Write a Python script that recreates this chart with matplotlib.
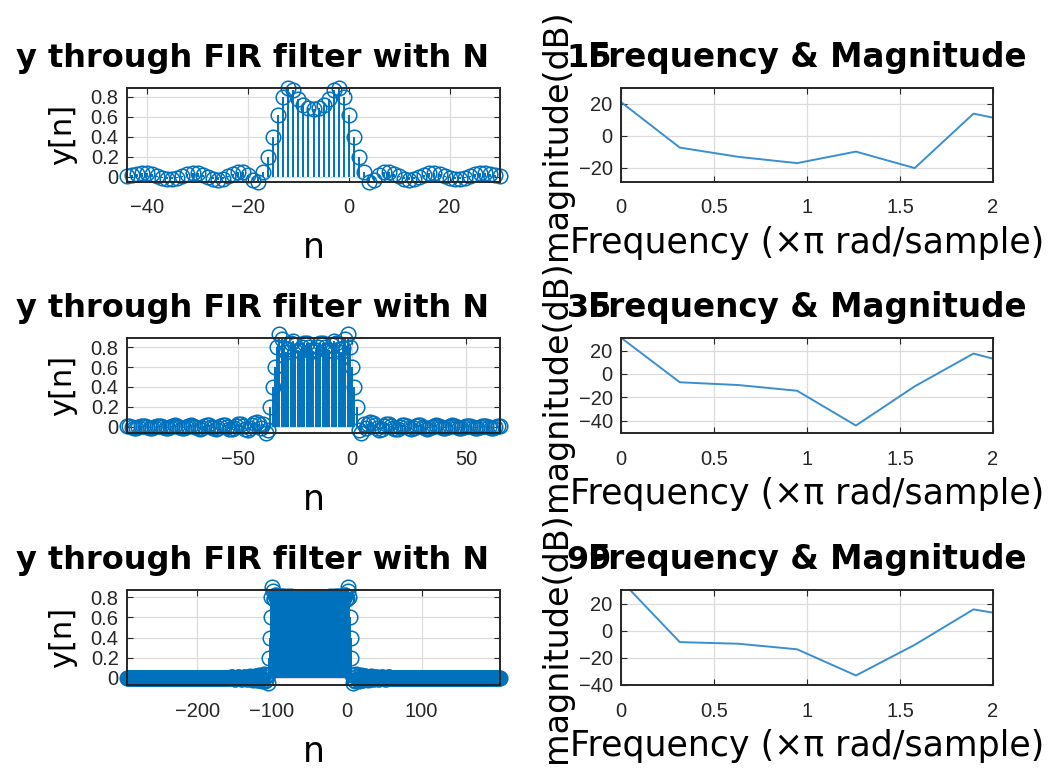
import numpy as np
import matplotlib
matplotlib.use('Agg')
import matplotlib.pyplot as plt

# ---------------- data ----------------
filter_lengths = [15, 35, 99]
n_start = [-44, -99, -294]

y15 = [0.01, 0.02, 0.03, 0.04, 0.04, 0.03, 0.01, -0.01, -0.02, -0.02, -0.01, 0.01, 0.03,
       0.04, 0.04, 0.02, 0.0, -0.02, -0.03, -0.02, 0.01, 0.03, 0.05, 0.05, 0.02,
       -0.03, -0.047, 0.05, 0.2, 0.4, 0.62, 0.8, 0.893, 0.87, 0.78, 0.72, 0.69, 0.68,
       0.69, 0.72, 0.78, 0.87, 0.893, 0.8, 0.62, 0.4, 0.2, 0.05, -0.047, -0.03,
       0.02, 0.05, 0.05, 0.03, 0.01, -0.02, -0.03, -0.02, 0.0, 0.02, 0.04, 0.04, 0.03,
       0.01, -0.01, -0.02, -0.02, -0.01, 0.01, 0.03, 0.04, 0.04, 0.03, 0.02, 0.01]

y35 = [0.01, 0.01, 0.0, -0.01, -0.01, 0.0, 0.01, 0.01, 0.01, 0.0, -0.01, -0.01, 0.0, 0.01,
       0.01, 0.01, 0.0, -0.01, -0.01, 0.0, 0.01, 0.02, 0.01, 0.0, -0.01, -0.01, 0.0, 0.01,
       0.02, 0.01, 0.0, -0.01, -0.02, -0.01, 0.01, 0.02, 0.02, 0.0, -0.01, -0.02, -0.01,
       0.01, 0.02, 0.02, 0.0, -0.02, -0.02, -0.01, 0.01, 0.03, 0.03, 0.01, -0.02, -0.03,
       -0.01, 0.02, 0.04, 0.05, 0.03, -0.01, 0.03,
       -0.06, -0.03, 0.2, 0.4, 0.6, 0.8, 0.93, 0.88, 0.79, 0.75, 0.78, 0.84, 0.86, 0.82,
       0.77, 0.76, 0.8, 0.84, 0.84, 0.8, 0.77, 0.76, 0.77, 0.8, 0.84, 0.84, 0.8, 0.76,
       0.77, 0.82, 0.86, 0.84, 0.78, 0.75, 0.79, 0.88, 0.93, 0.8, 0.6, 0.4, 0.2, -0.03,
       -0.06,
       0.03, -0.01, 0.03, 0.05, 0.04, 0.02, -0.01, -0.03, -0.02, 0.01, 0.03, 0.03, 0.01,
       -0.01, -0.02, -0.02, 0.0, 0.02, 0.02, 0.01, -0.01, -0.02, -0.01, 0.01, 0.02, 0.02,
       0.0, -0.01, -0.02, -0.01, 0.0, 0.01, 0.02, 0.01, 0.0, -0.01, -0.01, 0.0, 0.01, 0.02,
       0.01, 0.0, -0.01, -0.01, 0.0, 0.01, 0.01, 0.01, 0.0, -0.01, -0.01, 0.0, 0.01, 0.01,
       0.01, 0.0, -0.01, -0.01, 0.0, 0.01, 0.01]

y99 = [0, 0, 0, 0, 0, 0, 0, 0, 0, 0, 0, 0, 0, 0, 0, 0, 0, 0, 0,
       0, 0, 0, 0, 0, 0, 0, 0, 0, 0, 0, 0, 0, 0, 0, 0, 0, 0, 0, 0,
       0, 0, 0, 0, 0, 0, 0, 0, 0, 0, 0, 0, 0, 0, 0, 0, 0, 0, 0, 0,
       0, 0, 0, 0, 0, 0, 0, 0, 0, 0, 0, 0, 0, 0, 0, 0, 0, 0, 0, 0,
       0, 0, 0, 0, 0, 0, 0, 0, 0, 0, 0, 0, 0, 0, 0, 0, 0, 0, 0, 0,
       0, 0, 0, 0, 0, 0, 0, 0, 0, 0, 0, 0, 0, 0, 0, 0, 0, 0, 0, 0,
       0, 0, 0, 0, 0, 0, 0, 0, 0, 0, 0, 0, 0, 0, 0, 0, 0, 0, 0, 0,
       .01, .01, .01, 0, 0, -.01, -.01, 0, 0, .01, .01, .01, 0, 0, -.01, -.01, 0, .01, .01,
       .01, 0, -.01, -.01, 0, .01, .02, .01, 0, -.01, -.02, -.01, .01, .02, .02, 0, -.02, -.02, .01,
       .03, .02, -.01, -.03, -.01, .02, .04, .01, -.03, -.02,
       0.03, -0.05, 0.03, 0.2, 0.4, 0.6, 0.8, 0.9, 0.86, 0.78, 0.78, 0.82, 0.82, 0.79, 0.79,
       .81, .81, .8, .79, .79, .8, .81, .81, .8, .79, .8, .8, .81, .8, .8, .79, .8, .8, .81, .8, .8,
       .8, .8, .8, .8, .8, .8, .8, .8, .8, .8, .8, .8, .8, .8, .8, .8, .8, .8, .8, .8, .8, .8, .8,
       .8, .8, .8, .8, .8, .8, .8, .8, .8, .8, .8, .8, .8, .8, .8, .8, .8, .8, .8, .8, .8, .8, .8,
       .8, .8, .81, .8, .8, .79, .8, .8, .81, .8, .79, .8, .81, .81, .8, .79, .79, .8, .81, .81,
       0.79, 0.79, 0.82, 0.82, 0.78, 0.78, 0.86, 0.9, 0.8, 0.6, 0.4, 0.2, 0.03, -0.05, 0.03,
       -.02, -.03, .01, .04, .02, -.01, -.03, -.01, .02, .03, .01, -.02, -.02, 0, .02, .02, .01,
       -.01, -.02, -.01, 0, .01, .02, .01, 0, -.01, -.01, 0, .01, .01, .01, 0, -.01, -.01, 0, 0,
       .01, .01, .01, 0, 0, -.01, -.01, 0, 0, .01, .01, .01, 0, 0,
       0, 0, 0, 0, 0, 0, 0, 0, 0, 0, 0, 0, 0, 0, 0, 0, 0, 0, 0, 0,
       0, 0, 0, 0, 0, 0, 0, 0, 0, 0, 0, 0, 0, 0, 0, 0, 0, 0, 0, 0,
       0, 0, 0, 0, 0, 0, 0, 0, 0, 0, 0, 0, 0, 0, 0, 0, 0, 0, 0, 0,
       0, 0, 0, 0, 0, 0, 0, 0, 0, 0, 0, 0, 0, 0, 0, 0, 0, 0, 0, 0,
       0, 0, 0, 0, 0, 0, 0, 0, 0, 0, 0, 0, 0, 0, 0, 0, 0, 0, 0, 0,
       0, 0, 0, 0, 0, 0, 0, 0, 0, 0, 0, 0, 0, 0, 0, 0, 0, 0, 0, 0,
       0, 0, 0, 0, 0, 0, 0, 0, 0, 0, 0, 0, 0, 0, 0, 0, 0, 0, 0, 0,
       0, 0, 0, 0, 0, 0]

freq = [0.0, 0.316, 0.632, 0.947, 1.263, 1.579, 1.895, 2.0]
mag15 = [21.0, -7.4, -13.2, -17.1, -9.9, -20.2, 13.8, 11.3]
mag35 = [31.0, -7.2, -9.6, -14.5, -44.3, -10.7, 17.4, 13.0]
mag99 = [37.0, -8.4, -9.6, -13.7, -33.0, -10.4, 15.7, 13.3]

stem_yticks = [0, 0.2, 0.4, 0.6, 0.8]
stem_yticklabels = ['0', '0.2', '0.4', '0.6', '0.8']
stem_xticks = [[-40, -20, 0, 20], [-50, 0, 50], [-200, -100, 0, 100]]
mag_xticks = [0, 0.5, 1, 1.5, 2]
mag_xticklabels = ['0', '0.5', '1', '1.5', '2']
mag_yticks = [[-20, 0, 20], [-40, -20, 0, 20], [-40, -20, 0, 20]]

left_title = 'y through FIR filter with N       {}'
right_title = 'Frequency & Magnitude'

# ---------------- style / layout ----------------
STEM_C = '#0072BD'
LINE_C = '#3b8fd0'
AX_C = '#262626'
GRID_C = '#dcdcdc'
TICK_FONT = 'Liberation Sans'
TXT_FONT = 'DejaVu Sans'

stem_ylims = [(-0.047, 0.893), (-0.06, 0.893), (-0.07, 0.87)]
mag_ylims = [(-28.7, 30.0), (-50.7, 31.0), (-40.0, 30.0)]

W, H = 1054, 777
fig = plt.figure(figsize=(W / 100, H / 100), dpi=100)

rows_px = [(87.7, 181.7), (337.7, 433.0), (590.0, 685.0)]
left_px = (127, 500)
right_px = (621, 993)


def add_ax(xpx, ypx):
    x0, x1 = xpx
    y0, y1 = ypx
    return fig.add_axes([x0 / W, 1 - y1 / H, (x1 - x0) / W, (y1 - y0) / H])


def style(ax):
    for s in ax.spines.values():
        s.set_color(AX_C)
        s.set_linewidth(1.4)
    ax.grid(True, color=GRID_C, linewidth=0.9)
    ax.set_axisbelow(True)
    ax.tick_params(direction='in', length=4, width=0.8, colors=AX_C,
                   labelsize=14.5, top=True, right=True)
    ax.tick_params(axis='x', pad=12)
    ax.tick_params(axis='y', pad=6)
    for lab in ax.get_xticklabels() + ax.get_yticklabels():
        lab.set_fontfamily(TICK_FONT)


stem_data = [y15, y35, y99]
mags = [mag15, mag35, mag99]

for i in range(3):
    # stem plot
    ax = add_ax(left_px, rows_px[i])
    y = np.array(stem_data[i], dtype=float)
    n = n_start[i] + np.arange(len(y))
    ml, sl, bl = ax.stem(n, y, linefmt='-', markerfmt='o', basefmt=' ')
    sl.set_color(STEM_C)
    sl.set_linewidth(1.4)
    ml.set_markerfacecolor('none')
    ml.set_markeredgecolor(STEM_C)
    ml.set_markersize(10.5)
    ml.set_markeredgewidth(1.1)
    ml.set_clip_on(False)
    bl.set_visible(False)
    ax.set_xlim(n[0], n[-1])
    ax.set_ylim(*stem_ylims[i])
    ax.set_xticks(stem_xticks[i])
    ax.set_yticks(stem_yticks)
    ax.set_yticklabels(stem_yticklabels)
    style(ax)
    ax.set_title(left_title.format(filter_lengths[i]), fontsize=23,
                 fontweight='bold', family=TXT_FONT, pad=15)
    ax.set_xlabel('n', fontsize=25, family=TXT_FONT, labelpad=10)
    ax.set_ylabel('y[n]', fontsize=22, family=TXT_FONT, labelpad=10)

    # magnitude plot
    ax2 = add_ax(right_px, rows_px[i])
    ax2.plot(freq, mags[i], color=LINE_C, linewidth=1.4)
    ax2.set_xlim(0, 2)
    ax2.set_ylim(*mag_ylims[i])
    ax2.set_xticks(mag_xticks)
    ax2.set_xticklabels(mag_xticklabels)
    ax2.set_yticks(mag_yticks[i])
    style(ax2)
    ax2.set_title(right_title, fontsize=23.5, fontweight='bold', family=TXT_FONT, pad=15)
    ax2.set_xlabel('Frequency (×π rad/sample)', fontsize=25, family=TXT_FONT, labelpad=6)
    ax2.set_ylabel('magnitude(dB)', fontsize=24, family=TXT_FONT, labelpad=4)

fig.savefig('out.png', dpi=100)
